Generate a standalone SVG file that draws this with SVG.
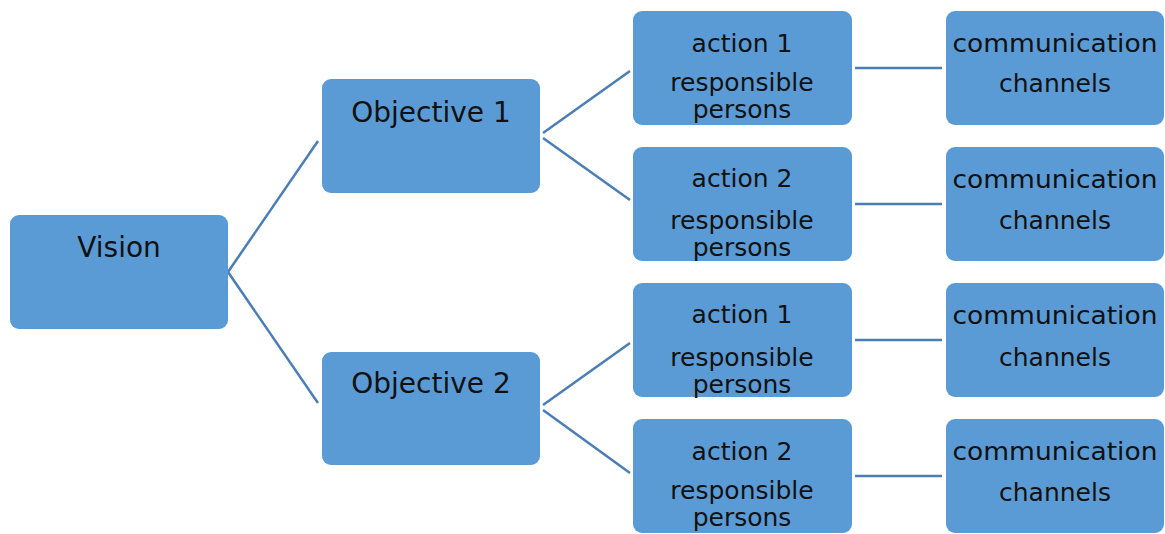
<svg xmlns="http://www.w3.org/2000/svg" width="1165" height="534" viewBox="0 0 1165 534">
<style>
.box{fill:#5b9bd5;}
.t{font-family:"DejaVu Sans","Liberation Sans",sans-serif;fill:#111;text-anchor:middle;}
.big{font-size:28px;}
.sm{font-size:25px;}
.conn line{stroke:#4a7eb5;stroke-width:2.5;fill:none;}
</style>
<rect width="1165" height="534" fill="#fff"/>
<g id="connectors" class="conn">
<line x1="228" y1="272" x2="318" y2="141"/>
<line x1="228" y1="272" x2="318" y2="403"/>
<line x1="543" y1="133" x2="630" y2="71"/>
<line x1="543" y1="138" x2="630" y2="200"/>
<line x1="543" y1="405" x2="630" y2="343"/>
<line x1="543" y1="410" x2="630" y2="473"/>
<line x1="855" y1="68" x2="942" y2="68"/>
<line x1="855" y1="204" x2="942" y2="204"/>
<line x1="855" y1="340" x2="942" y2="340"/>
<line x1="855" y1="476" x2="942" y2="476"/>
</g>
<g id="vision">
<rect class="box" x="10" y="215" width="218" height="114" rx="9"/>
<text class="t big" x="119" y="257">Vision</text>
</g>
<g id="objective1">
<rect class="box" x="322" y="79" width="218" height="114" rx="9"/>
<text class="t big" x="431" y="122">Objective 1</text>
</g>
<g id="objective2">
<rect class="box" x="322" y="352" width="218" height="113" rx="9"/>
<text class="t big" x="431" y="393">Objective 2</text>
</g>
<g id="action1a">
<rect class="box" x="633" y="11" width="219" height="114" rx="9"/>
<text class="t sm" x="742" y="52">action 1</text>
<text class="t sm" x="742" y="91">responsible</text>
<text class="t sm" x="742" y="118">persons</text>
</g>
<g id="action2a">
<rect class="box" x="633" y="147" width="219" height="114" rx="9"/>
<text class="t sm" x="742" y="187">action 2</text>
<text class="t sm" x="742" y="229">responsible</text>
<text class="t sm" x="742" y="256">persons</text>
</g>
<g id="action1b">
<rect class="box" x="633" y="283" width="219" height="114" rx="9"/>
<text class="t sm" x="742" y="323">action 1</text>
<text class="t sm" x="742" y="366">responsible</text>
<text class="t sm" x="742" y="393">persons</text>
</g>
<g id="action2b">
<rect class="box" x="633" y="419" width="219" height="114" rx="9"/>
<text class="t sm" x="742" y="460">action 2</text>
<text class="t sm" x="742" y="499">responsible</text>
<text class="t sm" x="742" y="526">persons</text>
</g>
<g id="comm1">
<rect class="box" x="946" y="11" width="218" height="114" rx="9"/>
<text class="t sm" x="1055" y="52" textLength="205" lengthAdjust="spacingAndGlyphs">communication</text>
<text class="t sm" x="1055" y="92">channels</text>
</g>
<g id="comm2">
<rect class="box" x="946" y="147" width="218" height="114" rx="9"/>
<text class="t sm" x="1055" y="188" textLength="205" lengthAdjust="spacingAndGlyphs">communication</text>
<text class="t sm" x="1055" y="229">channels</text>
</g>
<g id="comm3">
<rect class="box" x="946" y="283" width="218" height="114" rx="9"/>
<text class="t sm" x="1055" y="324" textLength="205" lengthAdjust="spacingAndGlyphs">communication</text>
<text class="t sm" x="1055" y="366">channels</text>
</g>
<g id="comm4">
<rect class="box" x="946" y="419" width="218" height="114" rx="9"/>
<text class="t sm" x="1055" y="460" textLength="205" lengthAdjust="spacingAndGlyphs">communication</text>
<text class="t sm" x="1055" y="501">channels</text>
</g>
</svg>
